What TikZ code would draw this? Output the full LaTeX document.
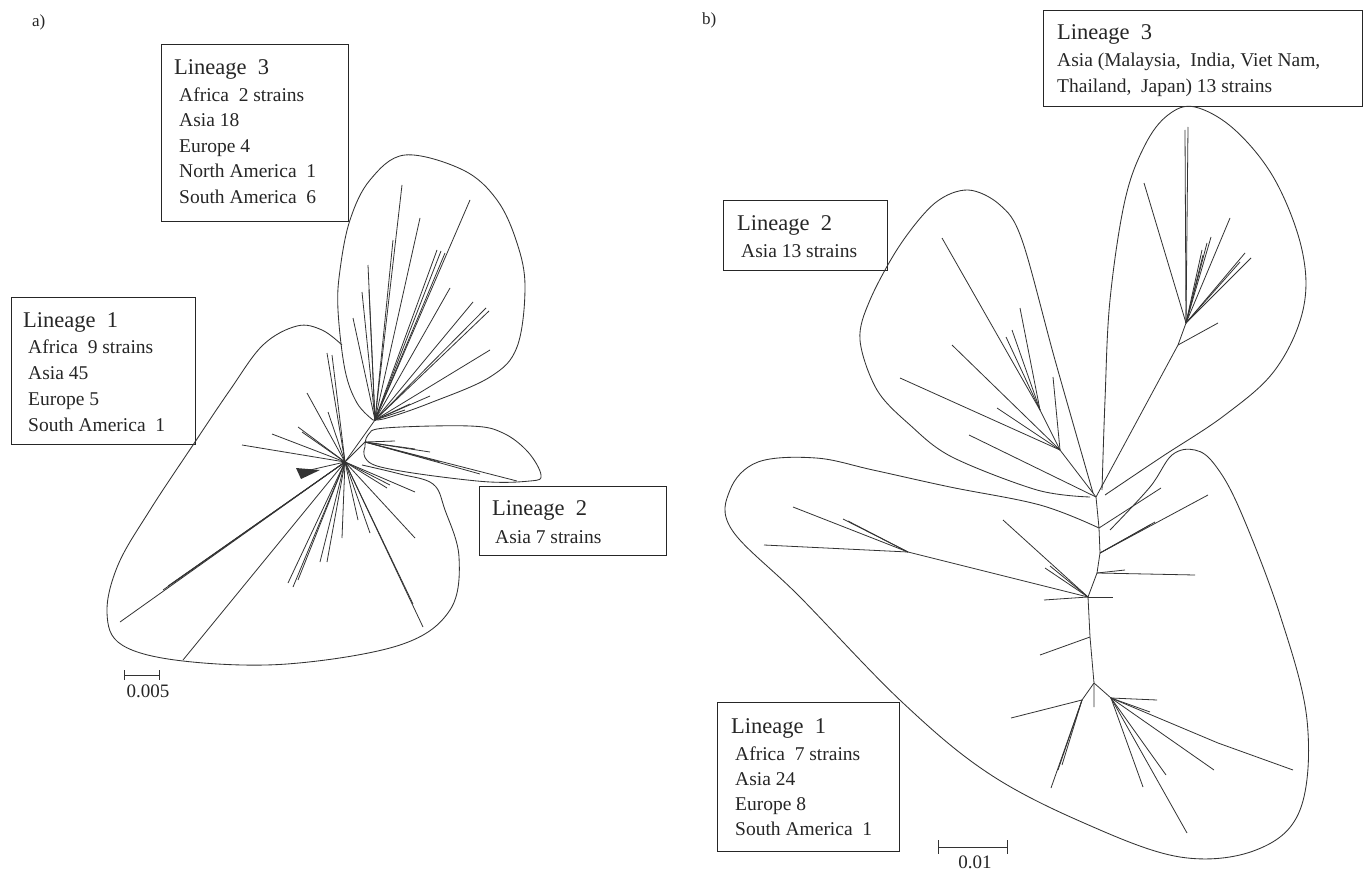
\documentclass[tikz,border=0pt]{standalone}
\usepackage{fontspec}
\setmainfont{Liberation Serif}
\begin{document}
\begin{tikzpicture}[x=1pt,y=-1pt,
  br/.style={line width=0.8pt, black!80},
  lobe/.style={line width=0.85pt, black!80},
  box/.style={draw=black!85, line width=1.1pt, inner sep=0pt, anchor=north west},
  ttl/.style={anchor=base west, inner sep=0pt, font=\fontsize{22.5}{24}\selectfont, text=black!85},
  bod/.style={anchor=base west, inner sep=0pt, font=\fontsize{19.5}{21}\selectfont, text=black!85},
  lab/.style={anchor=base west, inner sep=0pt, font=\fontsize{17}{18}\selectfont, text=black!85},
  sc/.style={anchor=base, inner sep=0pt, font=\fontsize{19}{20}\selectfont, text=black!85}]
\useasboundingbox (0,0) rectangle (1368,872);
\fill[white] (0,0) rectangle (1368,872);

% panel labels
\node[lab] (pa) at (32,27) {a)};
\node[lab] (pb) at (702,25) {b)};

% ================= LEFT PANEL =================
% boxes
\node[box, minimum width=187pt, minimum height=177pt] (bA3) at (161,44) {};
\node[ttl] (tA3) at (174,75) {Lineage~~3};
\node[bod] (tA3a) at (179,102) {Africa~~2 strains};
\node[bod] (tA3b) at (179,127) {Asia 18};
\node[bod] (tA3c) at (179,153) {Europe 4};
\node[bod] (tA3d) at (179,178) {North America~~1};
\node[bod] (tA3e) at (179,203) {South America~~6};

\node[box, minimum width=184pt, minimum height=147pt] (bA1) at (11,297) {};
\node[ttl] (tA1) at (23,327) {Lineage~~1};
\node[bod] (tA1a) at (28,353) {Africa~~9 strains};
\node[bod] (tA1b) at (28,379) {Asia 45};
\node[bod] (tA1c) at (28,405) {Europe 5};
\node[bod] (tA1d) at (28,431) {South America~~1};

\node[box, minimum width=187pt, minimum height=69pt] (bA2) at (479,486) {};
\node[ttl] (tA2) at (492,515) {Lineage~~2};
\node[bod] (tA2a) at (495,543) {Asia 7 strains};

% lobes
\draw[lobe] plot[smooth, tension=0.6] coordinates {(373,420) (357,403) (345,370) (338,310) (340,270) (350,220) (370,180) (405,155) (463,170) (497,200) (517,243) (525,287) (517,347) (490,377) (430,403) (387,418) (373,420)};
\draw[lobe] plot[smooth, tension=0.6] coordinates {(365,447) (368,435) (385,428) (470,426) (503,433) (528,452) (541,475) (530,481) (477,481) (377,466) (365,447)};
\draw[lobe] plot[smooth, tension=0.6] coordinates {(342,345) (322,330) (297,326) (263,345) (230,390) (193,445) (150,510) (118,565) (107,613) (122,645) (183,661) (287,664) (400,645) (450,610) (459,557) (445,510) (433,484) (400,474) (362,465)};

% tree
\coordinate (C) at (345,462);
\coordinate (N3) at (375,420);
\coordinate (L2) at (365,442);
\draw[br] (C) -- (N3);
\draw[br] (C) -- (L2);
\foreach \x/\y in {402/185, 393/240, 420/218, 470/200, 437/250, 441/251, 445/253, 450/288, 473/302, 486/308, 489/311, 490/350, 430/396, 368/265, 369/290, 362/292, 353/318, 410/404, 405/410}
  \draw[br] (N3) -- (\x,\y);
\foreach \x/\y in {517/481, 480/474, 440/462, 415/449, 395/441, 430/452}
  \draw[br] (L2) -- (\x,\y);
\foreach \x/\y in {242/445, 272/434, 307/393, 302/432, 298/427, 327/353, 332/355, 328/412, 310/470, 120/622, 163/590, 168/586, 173/583, 183/660, 288/583, 293/587, 298/580, 320/562, 327/562, 342/538, 370/533, 415/538, 423/627, 413/604, 415/492, 387/488, 390/485, 358/520}
  \draw[br] (C) -- (\x,\y);
\fill[black!80] (296,468) -- (320,470) -- (301,479) -- cycle;

% scale bar a
\coordinate (sa1) at (124,675);
\coordinate (sa2) at (159,675);
\draw[br] (sa1) -- (sa2);
\draw[br] ([yshift=5pt]sa1) -- ([yshift=-5pt]sa1);
\draw[br] ([yshift=5pt]sa2) -- ([yshift=-5pt]sa2);
\node[sc] (sal) at (148,697) {0.005};

% ================= RIGHT PANEL =================
\node[box, minimum width=319pt, minimum height=96pt] (bB3) at (1043,10) {};
\node[ttl] (tB3) at (1057,40) {Lineage~~3};
\node[bod] (tB3a) at (1057,67) {Asia (Malaysia,~~India, Viet Nam,};
\node[bod] (tB3b) at (1057,93) {Thailand,~~Japan) 13 strains};

\node[box, minimum width=164pt, minimum height=70pt] (bB2) at (723,200) {};
\node[ttl] (tB2) at (737,230) {Lineage~~2};
\node[bod] (tB2a) at (741,257) {Asia 13 strains};

\node[box, minimum width=182pt, minimum height=149pt] (bB1) at (717,702) {};
\node[ttl] (tB1) at (731,733) {Lineage~~1};
\node[bod] (tB1a) at (735,760) {Africa~~7 strains};
\node[bod] (tB1b) at (735,785) {Asia 24};
\node[bod] (tB1c) at (735,810) {Europe 8};
\node[bod] (tB1d) at (735,835) {South America~~1};

% lobes
\draw[lobe] plot[smooth, tension=0.6] coordinates {(1102,490) (1105,400) (1110,300) (1125,200) (1145,145) (1168,115) (1195,107) (1235,130) (1275,180) (1302,250) (1303,310) (1275,370) (1225,415) (1160,458) (1105,495)};
\draw[lobe] plot[smooth, tension=0.55] coordinates {(1093,493) (1055,360) (1022,240) (1000,205) (968,190) (935,203) (900,245) (870,300) (860,340) (877,390) (910,425) (952,457) (1037,490) (1090,497)};
\draw[lobe] plot[smooth, tension=0.6] coordinates {(1099,528) (1040,505) (950,487) (873,470) (816,458) (758,462) (730,490) (732,530) (800,597) (902,702) (988,773) (1084,823) (1180,857) (1256,850) (1300,810) (1307,720) (1280,615) (1240,510) (1215,465) (1195,450) (1172,455) (1150,487) (1110,530)};

% tree
\coordinate (M1) at (1096,497);
\coordinate (M2) at (1099,528);
\coordinate (S2) at (1100,553);
\coordinate (S3) at (1097,573);
\coordinate (M3) at (1088,597);
\coordinate (S4) at (1090,637);
\coordinate (M4) at (1094,683);
\coordinate (Se) at (1094,707);
\draw[br] (M1) -- (M2) -- (S2) -- (S3) -- (M3) -- (S4) -- (M4) -- (Se);

\coordinate (N3a) at (1178,345);
\coordinate (N3R) at (1186,323);
\draw[br] (M1) -- (N3a) -- (N3R);
\draw[br] (N3a) -- (1218,323);
\foreach \x/\y in {1188/127, 1185/130, 1144/183, 1230/218, 1211/237, 1207/243, 1202/250, 1245/253, 1251/258, 1240/262, 1203/255}
  \draw[br] (N3R) -- (\x,\y);

\coordinate (A) at (1060,450);
\coordinate (A2) at (1040,410);
\draw[br] (M1) -- (A) -- (A2);
\foreach \x/\y in {942/238, 1020/308, 1012/330, 1006/337}
  \draw[br] (A2) -- (\x,\y);
\foreach \x/\y in {952/345, 1053/377, 900/378, 997/408}
  \draw[br] (A) -- (\x,\y);
\draw[br] (M1) -- (969,435);

\draw[br] (M2) -- (1161,488);
\foreach \x/\y in {1208/495, 1150/525, 1155/522}
  \draw[br] (S2) -- (\x,\y);
\foreach \x/\y in {1195/575, 1125/570}
  \draw[br] (S3) -- (\x,\y);
\foreach \x/\y in {1113/597, 1044/600, 1003/520, 1045/568, 1050/566}
  \draw[br] (M3) -- (\x,\y);
\coordinate (L1) at (908,552);
\draw[br] (M3) -- (L1);
\foreach \x/\y in {793/507, 764/545, 843/519, 848/521}
  \draw[br] (L1) -- (\x,\y);
\draw[br] (S4) -- (1040,655);
\coordinate (P) at (1082,700);
\draw[br] (M4) -- (P);
\foreach \x/\y in {1011/718, 1051/788, 1058/770, 1062/765}
  \draw[br] (P) -- (\x,\y);
\coordinate (R) at (1111,698);
\coordinate (R2) at (1218,743);
\draw[br] (M4) -- (R);
\draw[br] (R) -- (R2) -- (1293,770);
\foreach \x/\y in {1157/700, 1214/770, 1166/775, 1143/787, 1187/833, 1150/712}
  \draw[br] (R) -- (\x,\y);

% scale bar b
\coordinate (sb1) at (938,847);
\coordinate (sb2) at (1007,847);
\draw[br] (sb1) -- (sb2);
\draw[br] ([yshift=7pt]sb1) -- ([yshift=-7pt]sb1);
\draw[br] ([yshift=7pt]sb2) -- ([yshift=-7pt]sb2);
\node[sc] (sbl) at (975,868) {0.01};
\end{tikzpicture}
\end{document}
